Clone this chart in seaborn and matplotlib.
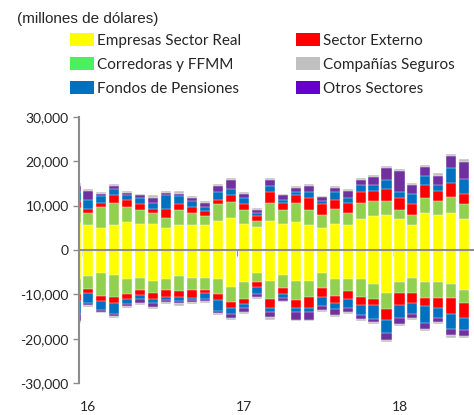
import numpy as np
import pandas as pd
import matplotlib
matplotlib.use('Agg')
import matplotlib.pyplot as plt
import seaborn as sns
from matplotlib.patches import Patch
from matplotlib.ticker import FuncFormatter

# meses: dic-2015 (cortado en el eje) a jun-2018
meses = pd.date_range('2015-12-01', '2018-06-01', freq='MS').strftime('%Y-%m').tolist()
anios = ['16', '17', '18']
anio_mes = ['2016-01', '2017-01', '2018-01']

# posiciones positivas (millones de dolares)
real_pos = [6000, 5550, 4950, 5550, 6300, 5900, 5900, 4950, 5550, 5550, 5550, 6600, 7300, 5900, 5250, 6600,
            5900, 6300, 5550, 4950, 5900, 5550, 6900, 7650, 7950, 6900, 5550, 8250, 7950, 8250, 6900]
corr_pos = [3500, 2700, 4700, 5100, 3300, 3000, 2400, 2300, 3400, 2800, 2100, 3700, 3400, 3100, 1350, 4050,
            3000, 4350, 3450, 3000, 3400, 2700, 3750, 3300, 3000, 2100, 2400, 3450, 3000, 3750, 3450]
ext_pos = [1500, 1050, 1000, 1650, 1700, 1500, 1000, 2000, 1350, 1350, 1050, 1050, 1650, 1350, 1050, 2300,
           1700, 1650, 2600, 2300, 2000, 2400, 2300, 2300, 2850, 2700, 2300, 3000, 2400, 3100, 2300]
pens_pos = [2000, 2000, 1400, 1500, 1100, 1300, 1350, 3150, 1800, 1300, 1050, 1700, 1350, 1350, 700, 1350,
            700, 700, 1400, 800, 1650, 1050, 1700, 1400, 2000, 1350, 2400, 2000, 1350, 3400, 3400]
otros_pos = [1500, 1950, 500, 600, 500, 600, 1050, 400, 600, 600, 800, 1300, 2000, 900, 600, 1400,
             1000, 1000, 1350, 900, 1000, 1600, 1050, 1700, 2550, 4700, 2000, 2000, 2000, 2600, 3700]
seg_pos = [500, 450, 400, 400, 400, 400, 600, 500, 600, 450, 400, 450, 450, 450, 400, 450,
           400, 450, 400, 300, 400, 450, 400, 500, 450, 400, 400, 400, 600, 450, 750]

# posiciones negativas (magnitud)
real_neg = [6500, 5900, 5200, 5550, 6600, 6300, 6900, 6600, 5900, 6300, 6300, 6600, 8300, 7300, 5250, 6900,
            5550, 6900, 6900, 5250, 6600, 6600, 6600, 7600, 9600, 7300, 6300, 7300, 7300, 7600, 8900]
corr_neg = [3500, 2800, 5200, 5100, 3400, 2600, 2700, 2300, 3400, 2600, 2600, 3400, 3300, 3700, 2000, 4050,
            3100, 4400, 3750, 3400, 3750, 2700, 4050, 3400, 3750, 2300, 3400, 3400, 3400, 3100, 3100]
ext_neg = [1500, 900, 1000, 1350, 1000, 1300, 1350, 1700, 1300, 2000, 700, 1350, 1350, 1050, 1000, 2000,
           1350, 1650, 2300, 2000, 1650, 1650, 1650, 1350, 2300, 2700, 2300, 2000, 2300, 3750, 3400]
pens_neg = [3000, 2400, 2000, 2300, 1050, 750, 1050, 600, 900, 400, 1350, 2300, 1350, 1000, 1700, 1050,
            700, 1050, 1050, 2000, 1350, 2000, 2400, 3100, 3100, 3100, 2300, 3700, 2400, 3300, 2700]
otros_neg = [1500, 300, 450, 500, 600, 1000, 900, 600, 500, 500, 600, 600, 1000, 1000, 700, 1000,
             700, 1650, 1650, 800, 1350, 1000, 900, 800, 1600, 1350, 1050, 1350, 800, 1350, 1300]
seg_neg = [500, 600, 400, 400, 450, 400, 400, 450, 600, 400, 450, 450, 400, 400, 300, 700,
           300, 400, 400, 400, 400, 400, 400, 450, 400, 300, 400, 450, 450, 750, 450]

orden = ['Empresas Sector Real', 'Corredoras y FFMM', 'Sector Externo',
         'Fondos de Pensiones', 'Otros Sectores', 'Compañías Seguros']
colores = {'Empresas Sector Real': '#FFFF00', 'Corredoras y FFMM': '#92D050',
           'Sector Externo': '#FF0000', 'Fondos de Pensiones': '#0070C0',
           'Otros Sectores': '#7030A0', 'Compañías Seguros': '#C0C0C0'}
colores_leyenda = dict(colores, **{'Corredoras y FFMM': '#4CF05E', 'Otros Sectores': '#6600CC'})

pos = pd.DataFrame(dict(zip(orden, [real_pos, corr_pos, ext_pos, pens_pos, otros_pos, seg_pos])), index=meses)
neg = -pd.DataFrame(dict(zip(orden, [real_neg, corr_neg, ext_neg, pens_neg, otros_neg, seg_neg])), index=meses)
cum_pos = pos.cumsum(axis=1)
cum_neg = neg.cumsum(axis=1)

sns.set_style('white')
plt.rcParams['font.family'] = ['Lato', 'DejaVu Sans']
gris = '#8C8C8C'

fig = plt.figure(figsize=(4.74, 4.15), dpi=100)
ax = fig.add_axes([78.5 / 474, 1 - 383.3 / 415, (474 - 78.5) / 474, 266.6 / 415])

# barras apiladas: se dibuja el acumulado de arriba hacia abajo
for s in reversed(orden):
    for cum in (cum_pos, cum_neg):
        sns.barplot(x=meses, y=cum[s].values, color=colores[s], saturation=1, width=0.78,
                    errorbar=None, ax=ax, edgecolor='white', linewidth=0.3)

ax.set_xlim(0.235, 30.75)
ax.set_ylim(-30000, 30000)
ax.set_yticks(range(-30000, 30001, 10000))
ax.yaxis.set_major_formatter(FuncFormatter(lambda v, p: f'{v:,.0f}'))
ax.set_xticks([0.5, 12.5, 24.5])
ax.set_xticklabels([])
ax.set_xlabel('')
ax.set_ylabel('')
ax.grid(False)

for side in ['top', 'right']:
    ax.spines[side].set_visible(False)
ax.spines['bottom'].set_position(('data', 0))
for side in ['left', 'bottom']:
    ax.spines[side].set_color(gris)
    ax.spines[side].set_linewidth(1.5)
ax.tick_params(axis='y', direction='out', length=4, width=1, color=gris, pad=3, labelsize=10)
ax.tick_params(axis='x', direction='out', length=4, width=1, color=gris)
ax.yaxis.set_ticks_position('left')
ax.xaxis.set_ticks_position('bottom')

for a, m in zip(anios, anio_mes):
    ax.text(meses.index(m), -0.089, a, transform=ax.get_xaxis_transform(),
            ha='center', va='center', fontsize=10)

fig.text(16.7 / 474, 1 - 18.8 / 415, '(millones de dólares)', family='Liberation Sans',
         fontsize=11, ha='left', va='center')

col1 = ['Empresas Sector Real', 'Corredoras y FFMM', 'Fondos de Pensiones']
col2 = ['Sector Externo', 'Compañías Seguros', 'Otros Sectores']
for col, x0 in ((col1, 70 / 474), (col2, 296 / 474)):
    handles = [Patch(facecolor=colores_leyenda[s], edgecolor='none') for s in col]
    fig.legend(handles, col, loc='upper left', bbox_to_anchor=(x0, 1 - 33.5 / 415),
               frameon=False, fontsize=11, handlelength=1.57, handleheight=0.92,
               handletextpad=0.2, labelspacing=0.6, borderpad=0, borderaxespad=0)

fig.savefig('out.png', dpi=100)
